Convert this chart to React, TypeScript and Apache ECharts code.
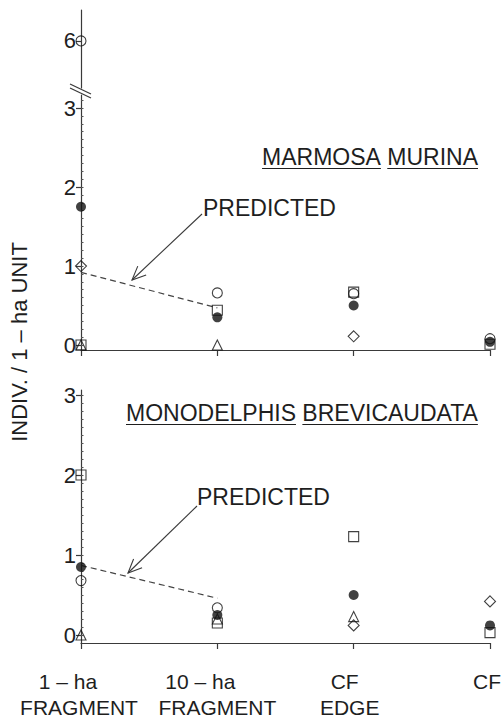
import React, { useEffect, useRef } from "react";
import * as echarts from "echarts";

// Habitat categories along the x axis (two-line labels)
const categoryLine1 = ["1 – ha", "10 – ha", "CF", "CF"];
const categoryLine2 = ["FRAGMENT", "FRAGMENT", "EDGE", ""];
const categories = ["1-ha fragment", "10-ha fragment", "CF edge", "CF"];

// Tick labels
const yTicks = [0, 1, 2, 3];
const yBrokenTicks = [6];

// Marmosa murina (individuals per 1-ha unit)
const marmosaFilledCircle = [1.75, 0.35, 0.5, 0.04];
const marmosaOpenCircle = [null, 0.66, 0.65, 0.08];
const marmosaOpenCircleHigh = [6, null, null, null];
const marmosaSquare = [0, 0.44, 0.67, 0.01];
const marmosaTriangle = [0, 0, null, null];
const marmosaDiamond = [1.0, null, 0.11, null];
const marmosaPredicted = [0.92, 0.47, null, null];

// Monodelphis brevicaudata (individuals per 1-ha unit)
const monoFilledCircle = [0.85, 0.25, 0.5, 0.12];
const monoOpenCircle = [0.68, 0.34, null, null];
const monoSquare = [2.0, 0.15, 1.23, 0.03];
const monoTriangle = [0, 0.2, 0.23, null];
const monoDiamond = [null, null, 0.12, 0.42];
const monoPredicted = [0.87, 0.46, null, null];

const FONT = "'Liberation Sans', Arial, Helvetica, sans-serif";
const INK = "#1e1e1e";
const AXIS = "#3a3a3a";

// horizontal nudges (px) of each label line relative to its tick
const line1Shift = [-13, -17, -9, -3];
const line2Shift = [-2, 0, -4, 0];

function measure(text: string, size: number): number {
  const c = document.createElement("canvas").getContext("2d")!;
  c.font = `${size}px 'Liberation Sans', Arial, sans-serif`;
  return c.measureText(text).width;
}

function arrow(x1: number, y1: number, x2: number, y2: number) {
  const dx = x2 - x1;
  const dy = y2 - y1;
  const len = Math.hypot(dx, dy);
  const bx = -dx / len;
  const by = -dy / len;
  const a = (24 * Math.PI) / 180;
  const arm = 15;
  const rot = (ang: number) => [
    x2 + arm * (bx * Math.cos(ang) - by * Math.sin(ang)),
    y2 + arm * (bx * Math.sin(ang) + by * Math.cos(ang)),
  ];
  const style = { stroke: AXIS, lineWidth: 1.1, fill: "none" };
  return [
    { type: "line", shape: { x1, y1, x2, y2 }, style },
    { type: "polyline", shape: { points: [rot(a), [x2, y2], rot(-a)] }, style },
  ];
}

function underlinedWords(words: string[], x0: number, yMid: number, size: number) {
  const els: any[] = [];
  const space = measure(" ", size);
  let x = x0;
  words.forEach((w) => {
    const wd = measure(w, size);
    els.push({
      type: "text",
      x,
      y: yMid,
      style: { text: w, font: `${size}px ${FONT}`, fill: INK, verticalAlign: "middle", align: "left" },
    });
    els.push({
      type: "line",
      shape: { x1: x, y1: yMid + size * 0.5, x2: x + wd, y2: yMid + size * 0.5 },
      style: { stroke: INK, lineWidth: 1.2 },
    });
    x += wd + space;
  });
  return els;
}

const emptyStyle = { color: "rgba(0,0,0,0)", borderColor: "#111", borderWidth: 1.1 };

function markerSeries(
  name: string,
  data: (number | null)[],
  xi: number,
  yi: number,
  symbol: string,
  size: number,
  filled: boolean,
  z: number
) {
  return {
    type: "scatter",
    name,
    xAxisIndex: xi,
    yAxisIndex: yi,
    data,
    symbol,
    symbolSize: size,
    itemStyle: filled ? { color: "#111" } : emptyStyle,
    z,
    silent: true,
  };
}

function predictedSeries(data: (number | null)[], xi: number, yi: number) {
  return {
    type: "line",
    xAxisIndex: xi,
    yAxisIndex: yi,
    data,
    symbol: "none",
    lineStyle: { color: "#444", width: 1.2, type: [6, 4] },
    z: 1,
    silent: true,
  };
}

const minorTicks: number[] = [];
for (let i = 0; i <= 31; i++) minorTicks.push(i / 10);

function valueAxis(grid: number, min: number, max: number, ticks: number[]) {
  return {
    type: "value",
    gridIndex: grid,
    min,
    max,
    position: "left",
    axisLine: { show: true, lineStyle: { color: AXIS, width: 1.2 } },
    axisTick: { show: true, customValues: ticks, length: 5, lineStyle: { color: AXIS, width: 1.2 } },
    axisLabel: {
      show: true,
      customValues: ticks,
      formatter: (v: number) => String(v),
      color: INK,
      fontSize: 22,
      fontFamily: FONT,
      margin: 5,
    },
    splitLine: { show: false },
  };
}

function minorAxis(grid: number, min: number, max: number, ticks: number[]) {
  return {
    type: "value",
    gridIndex: grid,
    min,
    max,
    position: "left",
    axisLine: { show: false },
    axisTick: { show: true, inside: true, customValues: ticks, length: 2.5, lineStyle: { color: "#555", width: 1 } },
    axisLabel: { show: false },
    splitLine: { show: false },
  };
}

function catAxis(grid: number, show: boolean, labels: boolean) {
  const rich: Record<string, any> = {};
  categories.forEach((_, i) => {
    rich["a" + i] = {
      fontSize: 21,
      fontFamily: FONT,
      color: INK,
      lineHeight: 26,
      padding: [0, Math.max(0, -2 * line1Shift[i]), 0, Math.max(0, 2 * line1Shift[i])],
    };
    rich["b" + i] = {
      fontSize: 21,
      fontFamily: FONT,
      color: INK,
      lineHeight: 26,
      padding: [0, Math.max(0, -2 * line2Shift[i]), 0, Math.max(0, 2 * line2Shift[i])],
    };
  });
  return {
    type: "category",
    gridIndex: grid,
    data: categories,
    boundaryGap: false,
    show,
    axisLine: { show: true, onZero: false, lineStyle: { color: AXIS, width: 1.2 } },
    axisTick: { show: true, length: 6, interval: 0, lineStyle: { color: AXIS, width: 1.2 } },
    axisLabel: {
      show: labels,
      interval: 0,
      hideOverlap: false,
      margin: 25,
      formatter: (_: string, i: number) =>
        categoryLine2[i]
          ? `{a${i}|${categoryLine1[i]}}\n{b${i}|${categoryLine2[i]}}`
          : `{a${i}|${categoryLine1[i]}}\n{b${i}| }`,
      rich,
    },
    splitLine: { show: false },
  };
}

export default function App() {
  const ref = useRef<HTMLDivElement>(null);

  useEffect(() => {
    document.body.style.margin = "0";
    const chart = echarts.init(ref.current!, null, { renderer: "svg" });

    const graphics: any[] = [
      // axis break marks
      { type: "line", shape: { x1: 70, y1: 84, x2: 91, y2: 94 }, style: { stroke: AXIS, lineWidth: 1.2 } },
      { type: "line", shape: { x1: 70, y1: 88, x2: 91, y2: 98 }, style: { stroke: AXIS, lineWidth: 1.2 } },
      // y axis title
      {
        type: "text",
        x: 19,
        y: 342,
        rotation: Math.PI / 2,
        style: {
          text: "INDIV. / 1 – ha UNIT",
          font: `22px ${FONT}`,
          fill: INK,
          align: "center",
          verticalAlign: "middle",
        },
      },
      {
        type: "text",
        x: 203,
        y: 208,
        style: { text: "PREDICTED", font: `23px ${FONT}`, fill: INK, verticalAlign: "middle" },
      },
      {
        type: "text",
        x: 197,
        y: 497,
        style: { text: "PREDICTED", font: `23px ${FONT}`, fill: INK, verticalAlign: "middle" },
      },
      ...arrow(202, 214, 132, 280),
      ...arrow(197, 506, 128, 573),
    ];

    const titleSize = 23;
    const topWords = ["MARMOSA", "MURINA"];
    const topWidth =
      topWords.reduce((s, w) => s + measure(w, titleSize), 0) + measure(" ", titleSize);
    graphics.push(...underlinedWords(topWords, 478 - topWidth, 157, titleSize));
    graphics.push(...underlinedWords(["MONODELPHIS", "BREVICAUDATA"], 126, 413, titleSize));

    const gridBase = { left: 81, right: 13, outerBoundsMode: "none", containLabel: false };

    chart.setOption({
      animation: false,
      backgroundColor: "#ffffff",
      grid: [
        { ...gridBase, top: 10, height: 78 },
        { ...gridBase, top: 95, height: 255 },
        { ...gridBase, top: 390, height: 253 },
      ],
      xAxis: [catAxis(0, false, false), catAxis(1, true, false), catAxis(2, true, true)],
      yAxis: [
        valueAxis(0, 5.405, 6.39, yBrokenTicks),
        valueAxis(1, -0.063, 3.165, yTicks),
        minorAxis(1, -0.063, 3.165, minorTicks),
        valueAxis(2, -0.1, 3.0625, yTicks),
        minorAxis(2, -0.1, 3.0625, minorTicks),
      ],
      series: [
        // upper segment of the broken axis
        markerSeries("open circle", marmosaOpenCircleHigh, 0, 0, "circle", 10, false, 3),
        // Marmosa murina
        predictedSeries(marmosaPredicted, 1, 1),
        markerSeries("square", marmosaSquare, 1, 1, "rect", 10, false, 2),
        markerSeries("triangle", marmosaTriangle, 1, 1, "triangle", 10, false, 2),
        markerSeries("diamond", marmosaDiamond, 1, 1, "diamond", 11, false, 2),
        markerSeries("open circle", marmosaOpenCircle, 1, 1, "circle", 10, false, 3),
        markerSeries("filled circle", marmosaFilledCircle, 1, 1, "circle", 10, true, 4),
        // Monodelphis brevicaudata
        predictedSeries(monoPredicted, 2, 3),
        markerSeries("square", monoSquare, 2, 3, "rect", 10, false, 2),
        markerSeries("triangle", monoTriangle, 2, 3, "triangle", 10, false, 2),
        markerSeries("diamond", monoDiamond, 2, 3, "diamond", 11, false, 2),
        markerSeries("open circle", monoOpenCircle, 2, 3, "circle", 10, false, 3),
        markerSeries("filled circle", monoFilledCircle, 2, 3, "circle", 10, true, 4),
      ],
      graphic: graphics,
    });

    return () => chart.dispose();
  }, []);

  return <div ref={ref} style={{ width: 503, height: 724 }} />;
}
